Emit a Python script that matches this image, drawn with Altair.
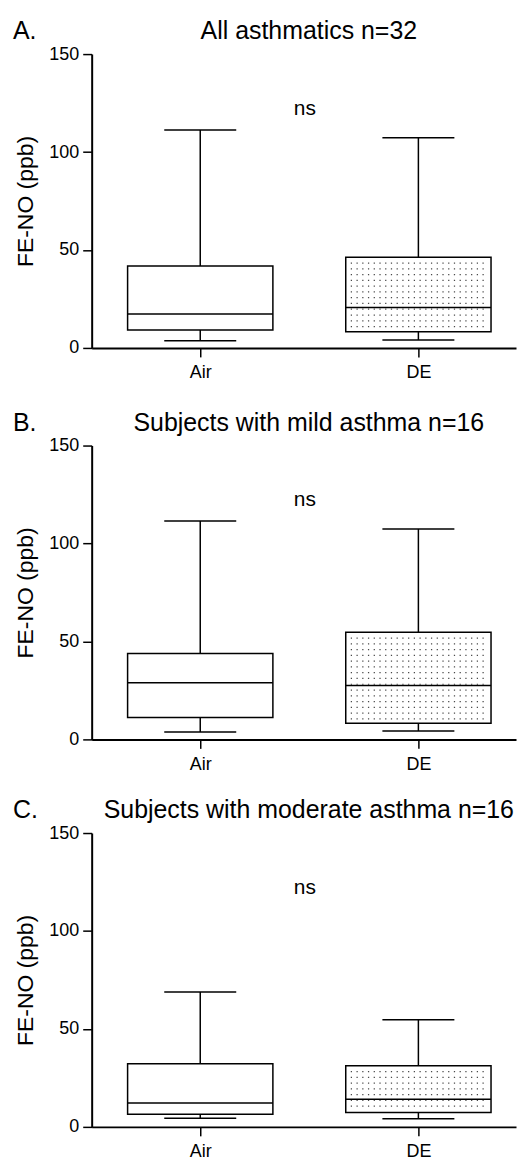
import json
import altair as alt
import pandas as pd

# ---------------- data ----------------
panel_letters = ["A.", "B.", "C."]
panel_titles = [
    "All asthmatics n=32",
    "Subjects with mild asthma n=16",
    "Subjects with moderate asthma n=16",
]
groups = ["Air", "DE"]

# per panel: [Air, DE]
whisker_low = [[3.7, 4.1], [3.8, 4.3], [4.4, 4.2]]
q1 = [[9.2, 8.3], [11.2, 8.3], [6.4, 7.3]]
median = [[17.3, 20.7], [28.9, 27.5], [12.2, 14.1]]
q3 = [[41.8, 46.3], [43.8, 54.7], [32.2, 31.2]]
whisker_high = [[111.2, 107.3], [111.5, 107.4], [68.9, 54.7]]

y_ticks = [0, 50, 100, 150]
y_title = "FE-NO (ppb)"
sig_label = "ns"

# ---------------- styling ----------------
FONT = "Liberation Sans"
W, H = 426, 295
PX_PER_UNIT = 219.0
X0 = 0.5023
BOX_HALF = 0.333
CAP_HALF = 0.165
DOT_HALF = 0.31
DOT_STEP = 2.95

xs = alt.Scale(domain=[X0, X0 + W / PX_PER_UNIT], nice=False, zero=False)
ys = alt.Scale(domain=[0, 150], nice=False, zero=True)
label_expr = f"{json.dumps(groups)}[datum.value - 1]"
xaxis = alt.Axis(values=[1, 2], labelExpr=label_expr, title=None, tickSize=9,
                 labelPadding=7, grid=False)
yaxis = alt.Axis(values=y_ticks, title=y_title, tickSize=9, labelPadding=4,
                 titlePadding=11, grid=False)


def panel(i):
    df = pd.DataFrame({
        "group": groups,
        "lo": whisker_low[i],
        "q1": q1[i],
        "med": median[i],
        "q3": q3[i],
        "hi": whisker_high[i],
    })
    base = alt.Chart(df).transform_calculate(
        pos=f"indexof({json.dumps(groups)}, datum.group) + 1"
    ).transform_calculate(
        bx0=f"datum.pos - {BOX_HALF}",
        bx1=f"datum.pos + {BOX_HALF}",
        cx0=f"datum.pos - {CAP_HALF}",
        cx1=f"datum.pos + {CAP_HALF}",
        dx0=f"datum.pos - {DOT_HALF}",
        dx1=f"datum.pos + {DOT_HALF}",
    )
    X = lambda f: alt.X(f"{f}:Q", scale=xs, axis=xaxis)
    Y = lambda f: alt.Y(f"{f}:Q", scale=ys, axis=yaxis)

    whisker = base.mark_rule(color="black", strokeWidth=1.5).encode(
        x=X("pos"), y=Y("lo"), y2="hi:Q")
    cap_lo = base.mark_rule(color="black", strokeWidth=1.5).encode(
        x=X("cx0"), x2="cx1:Q", y=Y("lo"))
    cap_hi = base.mark_rule(color="black", strokeWidth=1.5).encode(
        x=X("cx0"), x2="cx1:Q", y=Y("hi"))
    box = base.mark_rect(fill="white", stroke="black", strokeWidth=1.5).encode(
        x=X("bx0"), x2="bx1:Q", y=Y("q1"), y2="q3:Q")
    dots = base.transform_filter(
        f"datum.group == '{groups[1]}'"
    ).transform_calculate(
        rows=f"sequence(datum.q3 - {DOT_STEP}, datum.q1 + 0.8, -{DOT_STEP})"
    ).transform_flatten(["rows"]).mark_rule(
        color="#4a4a4a", strokeWidth=1.25, strokeDash=[1.25, 4.5]
    ).encode(x=X("dx0"), x2="dx1:Q", y=Y("rows"))
    med = base.mark_rule(color="black", strokeWidth=1.5).encode(
        x=X("bx0"), x2="bx1:Q", y=Y("med"))

    ann = pd.DataFrame({"letter": [panel_letters[i]],
                        "title": [panel_titles[i]],
                        "sig": [sig_label]})
    abase = alt.Chart(ann)
    letter = abase.mark_text(align="left", baseline="alphabetic", fontSize=25,
                             font=FONT, color="black").encode(
        text="letter:N", x=alt.value(-79), y=alt.value(-15))
    title = abase.mark_text(align="center", baseline="alphabetic", fontSize=25,
                            font=FONT, color="black").encode(
        text="title:N", x=alt.value(218), y=alt.value(-15))
    ns = abase.mark_text(align="center", baseline="alphabetic", fontSize=21,
                         font=FONT, color="black").encode(
        text="sig:N", x=alt.value(214), y=alt.value(61))

    return alt.layer(whisker, cap_lo, cap_hi, box, dots, med, letter, title, ns
                     ).properties(width=W, height=H)


chart = alt.vconcat(
    alt.vconcat(panel(0), panel(1), spacing=29),
    panel(2),
    spacing=25,
).properties(
    padding={"left": 5, "top": 9, "right": 2, "bottom": 0}
).configure_view(stroke=None).configure_axis(
    domainColor="black", domainWidth=2, tickColor="black", tickWidth=1.5,
    labelColor="black", labelFont=FONT, labelFontSize=18,
    titleFont=FONT, titleFontSize=23, titleFontWeight="normal", titleColor="black",
)

chart.save("out.html", embed_options={"renderer": "svg", "actions": False})
